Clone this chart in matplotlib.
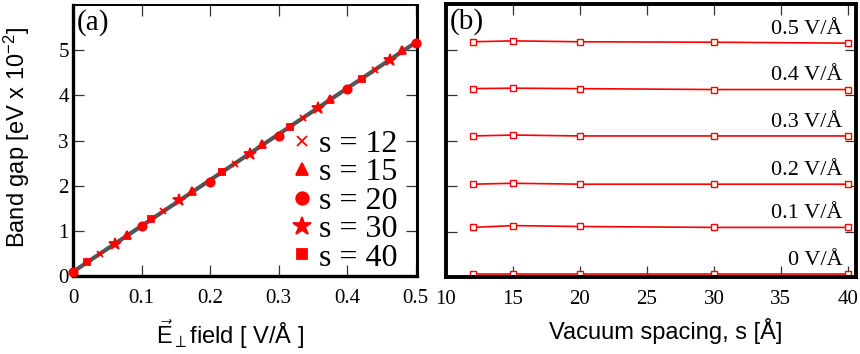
"""Band gap vs field and vacuum spacing, two panels."""
import numpy as np
import matplotlib
matplotlib.use("Agg")
import matplotlib.pyplot as plt

plt.rcParams['mathtext.fontset'] = 'custom'
plt.rcParams['mathtext.rm'] = 'Liberation Sans'
plt.rcParams['mathtext.it'] = 'Liberation Sans:italic'

SERIF = ['Liberation Serif', 'DejaVu Serif']
SANS = ['Liberation Sans', 'DejaVu Sans']

# panel (a): field [V/A] and band gap [eV x 1e-2] per vacuum spacing
spacings = [12, 15, 20, 30, 40]
markers = ['x', '^', 'o', '*', 's']
sizes = [5, 6, 6, 9, 5]
field_s12 = [0.039, 0.132, 0.236, 0.335, 0.440]
gap_s12 = [0.48, 1.45, 2.48, 3.50, 4.56]
field_s15 = [0.079, 0.173, 0.276, 0.375, 0.480]
gap_s15 = [0.90, 1.88, 2.92, 3.92, 5.00]
field_s20 = [0.0, 0.1, 0.2, 0.3, 0.4, 0.5]
gap_s20 = [0.09, 1.10, 2.09, 3.10, 4.14, 5.15]
field_s30 = [0.061, 0.155, 0.258, 0.358, 0.462]
gap_s30 = [0.70, 1.68, 2.70, 3.72, 4.79]
field_s40 = [0.020, 0.114, 0.217, 0.316, 0.421]
gap_s40 = [0.30, 1.27, 2.30, 3.30, 4.37]
fields_a = [field_s12, field_s15, field_s20, field_s30, field_s40]
gaps_a = [gap_s12, gap_s15, gap_s20, gap_s30, gap_s40]

# panel (b): band gap vs vacuum spacing for each field
s_values = [12, 15, 20, 30, 40]
field_labels = ['0 V/Å', '0.1 V/Å', '0.2 V/Å', '0.3 V/Å', '0.4 V/Å', '0.5 V/Å']
gap_f0 = [0.07, 0.07, 0.07, 0.07, 0.07]
gap_f1 = [1.09, 1.13, 1.11, 1.09, 1.09]
gap_f2 = [2.04, 2.06, 2.04, 2.04, 2.04]
gap_f3 = [3.10, 3.12, 3.10, 3.10, 3.10]
gap_f4 = [4.14, 4.15, 4.14, 4.12, 4.12]
gap_f5 = [5.17, 5.19, 5.17, 5.16, 5.14]
gaps_b = [gap_f0, gap_f1, gap_f2, gap_f3, gap_f4, gap_f5]

fig = plt.figure(figsize=(8.6, 3.54), dpi=100)
ax1 = fig.add_axes([0.0849, 0.2203, 0.400, 0.7655])
ax2 = fig.add_axes([0.5186, 0.2175, 0.4767, 0.7712])

# ---- panel (a)
all_f = np.concatenate([np.array(f) for f in fields_a])
all_g = np.concatenate([np.array(g) for g in gaps_a])
slope, icpt = np.polyfit(all_f, all_g, 1)
xfit = np.array([0.0, 0.5])
ax1.plot(xfit, slope * xfit + icpt, color='#555555', lw=3, zorder=2,
         solid_capstyle='butt')
for s, m, ms, f, g in zip(spacings, markers, sizes, fields_a, gaps_a):
    ax1.plot(f, g, ls='none', marker=m, ms=ms, color='red', mew=1.3,
             label='s = %d' % s, zorder=3, clip_on=False)

ax1.set_xlim(0, 0.502)
ax1.set_ylim(0, 6)
ax1.set_xticks(np.arange(0, 0.51, 0.1))
ax1.set_xticklabels(['0', '0.1', '0.2', '0.3', '0.4', '0.5'])
ax1.set_yticks(range(0, 6))
ax1.tick_params(axis='x', pad=9)
ax1.tick_params(axis='y', pad=3)

leg = ax1.legend(loc='lower right', bbox_to_anchor=(1.009, -0.07),
                 frameon=False, handlelength=0.6, handletextpad=0.25,
                 labelspacing=-0.03, markerscale=1.5, borderpad=0.2,
                 prop={'family': SERIF, 'size': 23})

ax1.set_xlabel(r'$\vec{\mathrm{E}}_{\perp}$field [ V/Å ]', family=SANS,
               fontsize=17)
ax1.xaxis.set_label_coords(0.456, -0.15)
ax1.set_ylabel('Band gap [eV x 10$^{-2}$]', family=SANS, fontsize=17)
ax1.yaxis.set_label_coords(-0.118, 0.51)
ax1.text(0.012, 0.985, '(a)', transform=ax1.transAxes, ha='left', va='top',
         family=SERIF, fontsize=21)

ax1.spines['left'].set_linewidth(2.4)
ax1.spines['bottom'].set_linewidth(2.4)
ax1.spines['right'].set_linewidth(2.2)
ax1.spines['top'].set_linewidth(1.4)

# ---- panel (b)
for lab, g in zip(field_labels, gaps_b):
    ax2.plot(s_values, g, color='red', lw=1.2, marker='s', ms=4,
             mfc='white', mec='red', mew=1.0, clip_on=False)
    ax2.text(39.6, g[-1] + 0.2, lab, ha='right', va='baseline',
             family=SERIF, fontsize=16)

ax2.set_xlim(10, 40.6)
ax2.set_ylim(0, 6)
ax2.set_xticks(range(10, 41, 5))
ax2.set_yticks(range(0, 7))
ax2.set_yticklabels([])
ax2.tick_params(axis='x', pad=9)
ax2.set_xlabel('Vacuum spacing, s [Å]', family=SANS, fontsize=17)
ax2.xaxis.set_label_coords(0.537, -0.15)
ax2.text(0.01, 0.985, '(b)', transform=ax2.transAxes, ha='left', va='top',
         family=SERIF, fontsize=21)
for sp in ax2.spines.values():
    sp.set_linewidth(2.8)

for ax in (ax1, ax2):
    ax.tick_params(direction='in', top=True, right=True, length=8,
                   width=0.9, color='#333333', labelsize=15)
    for t in ax.get_xticklabels() + ax.get_yticklabels():
        t.set_family(SERIF)

fig.savefig('out.png', dpi=100)
